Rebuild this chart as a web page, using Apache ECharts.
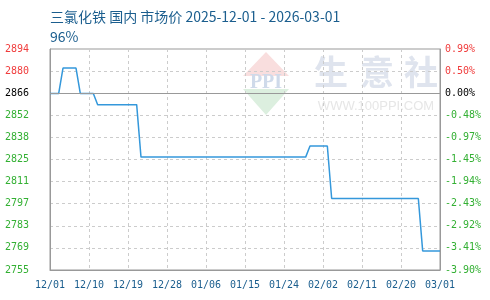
<!DOCTYPE html>
<html>
<head>
<meta charset="utf-8">
<script src="https://cdn.jsdelivr.net/npm/echarts@6/dist/echarts.min.js"></script>
<style>html,body{margin:0;padding:0;background:#fff}#c{width:490px;height:300px}</style>
</head>
<body>
<div id="c"></div>
<script>
// ---- data ----
const titleText = '三氯化铁 国内 市场价 2025-12-01 - 2026-03-01';
const subText = '96%';
const startDate = '2025-12-01';
const endDate = '2026-03-01';
const tickLabels = ['12/01','12/10','12/19','12/28','01/06','01/15','01/24','02/02','02/11','02/20','03/01'];
const priceLabels = ['2755','2769','2783','2797','2811','2825','2838','2852','2866','2880','2894'];
const pctLabels = ['-3.90%','-3.41%','-2.92%','-2.43%','-1.94%','-1.45%','-0.97%','-0.48%','0.00%','0.50%','0.99%'];
const dates = ['2025-12-01','2025-12-03','2025-12-04','2025-12-07','2025-12-08','2025-12-11','2025-12-12','2025-12-21','2025-12-22','2026-01-29','2026-01-30','2026-02-03','2026-02-04','2026-02-24','2026-02-25','2026-03-01'];
const prices = [2866,2866,2882,2882,2866,2866,2859,2859,2826,2826,2833,2833,2800,2800,2767,2767];
const basePrice = 2866;
const yMin = 2755, yMax = 2894;

// ---- build ----
const DAY = 86400000;
const t0 = Date.parse(startDate + 'T00:00:00Z');
const dayOf = d => Math.round((Date.parse(d + 'T00:00:00Z') - t0) / DAY);
const spanDays = dayOf(endDate);
const tickStep = spanDays / (tickLabels.length - 1);
const seriesData = dates.map((d, i) => [dayOf(d), prices[i]]);
const baseIdx = priceLabels.indexOf(String(basePrice));
const labelColor = (v, i) => i > baseIdx ? '#f03c3c' : (i === baseIdx ? '#000000' : '#33b033');
const monoFont = 'DejaVu Sans Mono';

const chart = echarts.init(document.getElementById('c'), null, {renderer: 'canvas'});
chart.setOption({
  animation: false,
  title: [
    {text: titleText, left: 45, top: 5, textStyle: {fontFamily: 'Noto Sans CJK SC', fontSize: 14, fontWeight: 'normal', color: '#1b5e8e'}},
    {text: subText, left: 45, top: 25, textStyle: {fontFamily: 'Noto Sans CJK SC', fontSize: 14, fontWeight: 'normal', color: '#1b5e8e'}}
  ],
  grid: {left: 50, right: 50, top: 49, bottom: 30, show: true, borderColor: '#999', borderWidth: 1, backgroundColor: 'transparent'},
  graphic: [
    {type: 'polygon', silent: true, z: -1, shape: {points: [[266,52],[243,76],[289,76]]}, style: {fill: '#f9dede'}},
    {type: 'polygon', silent: true, z: -1, shape: {points: [[243,89],[289,89],[266,115]]}, style: {fill: '#dcefdf'}},
    {type: 'text', silent: true, z: -1, x: 266, y: 83, style: {text: 'PPI', fill: '#cfdaea', font: 'bold 20px "Liberation Serif"', align: 'center', verticalAlign: 'middle'}},
    {type: 'text', silent: true, z: -1, x: 331, y: 72, style: {text: '生', fill: '#dfe4ee', font: 'bold 34px "Noto Sans CJK SC"', align: 'center', verticalAlign: 'middle'}},
    {type: 'text', silent: true, z: -1, x: 377, y: 72, style: {text: '意', fill: '#dfe4ee', font: 'bold 34px "Noto Sans CJK SC"', align: 'center', verticalAlign: 'middle'}},
    {type: 'text', silent: true, z: -1, x: 421, y: 72, style: {text: '社', fill: '#dfe4ee', font: 'bold 34px "Noto Sans CJK SC"', align: 'center', verticalAlign: 'middle'}},
    {type: 'text', silent: true, z: -1, x: 376, y: 106, style: {text: 'WWW.100PPI.COM', fill: '#e6e6e6', font: '13px "Liberation Sans"', align: 'center', verticalAlign: 'middle'}}
  ],
  xAxis: {
    type: 'value', min: 0, max: spanDays, interval: tickStep,
    axisLine: {show: true, lineStyle: {color: '#999', width: 1}},
    axisTick: {show: false},
    axisLabel: {margin: 10, color: '#1b5e8e', fontFamily: monoFont, fontSize: 10, formatter: v => tickLabels[Math.round(v / tickStep)] || ''},
    splitLine: {show: true, lineStyle: {color: '#ccc', type: [3, 3], width: 1}}
  },
  yAxis: [
    {type: 'value', position: 'left', min: 0, max: priceLabels.length - 1, interval: 1,
     axisLine: {show: true, lineStyle: {color: '#999', width: 1}}, axisTick: {show: false},
     axisLabel: {margin: 21, fontFamily: monoFont, fontSize: 10, color: labelColor, formatter: (v) => priceLabels[Math.round(v)]},
     splitLine: {show: true, lineStyle: {color: '#ccc', type: [3, 3], width: 1}}},
    {type: 'value', position: 'right', min: 0, max: pctLabels.length - 1, interval: 1,
     axisLine: {show: true, lineStyle: {color: '#999', width: 1}}, axisTick: {show: false},
     axisLabel: {margin: 5, fontFamily: monoFont, fontSize: 10, color: labelColor, formatter: (v) => pctLabels[Math.round(v)]},
     splitLine: {show: false}},
    {type: 'value', min: yMin, max: yMax, show: false, splitLine: {show: false}}
  ],
  series: [{
    type: 'line', yAxisIndex: 2, data: seriesData, symbol: 'none', smooth: false,
    lineStyle: {color: '#3498db', width: 1.5},
    markLine: {silent: true, symbol: 'none', label: {show: false}, lineStyle: {color: '#999', type: 'solid', width: 1},
      data: [{yAxis: basePrice}]},
    z: 3
  }]
});
</script>
</body>
</html>
